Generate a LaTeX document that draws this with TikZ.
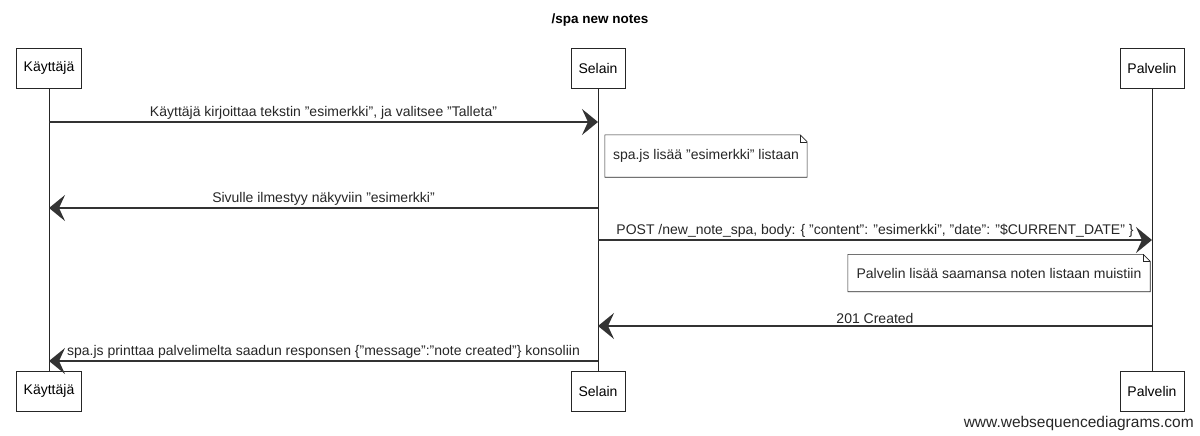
\documentclass[tikz,border=0pt]{standalone}
\usepackage{fontspec}
\setmainfont{Liberation Sans}[Ligatures=ResetAll]
\usetikzlibrary{arrows.meta}

\begin{document}
\begin{tikzpicture}[
  x=1pt, y=-1pt,
  font=\fontsize{14}{16}\selectfont,
  actor/.style={draw=black!85, semithick, minimum height=40pt, inner xsep=7.5pt},
  lifeline/.style={draw=black!85, thin},
  msg/.style={-{Stealth[length=16pt, width=26pt, inset=6pt]}, line width=1.4pt, draw=black!80},
  label/.style={above, inner sep=1.5pt, text=black!85},
  notebox/.style={inner xsep=8pt, inner ysep=0pt, minimum height=38pt, text=black!85},
  fold/.style={draw=black!85, semithick},
]
  \useasboundingbox (0,0) rectangle (1200,436);

  \node[font=\fontsize{13.5}{16}\selectfont\bfseries] (title) at (600,20) {/spa new notes};

  % participants
  \node[actor] (kayttajaTop) at (49,68) {Käyttäjä};
  \node[actor] (selainTop) at (598,68) {Selain};
  \node[actor] (palvelinTop) at (1152,68) {Palvelin};
  \node[actor] (kayttajaBot) at (49,391) {Käyttäjä};
  \node[actor] (selainBot) at (598,391) {Selain};
  \node[actor] (palvelinBot) at (1152,391) {Palvelin};

  \draw[lifeline] (kayttajaTop) -- (kayttajaBot);
  \draw[lifeline] (selainTop) -- (selainBot);
  \draw[lifeline] (palvelinTop) -- (palvelinBot);

  % message ends on the lifelines
  \coordinate (k1) at (kayttajaTop |- 0,122);
  \coordinate (s1) at (selainTop |- 0,122);
  \coordinate (s2) at (selainTop |- 0,208);
  \coordinate (k2) at (kayttajaTop |- 0,208);
  \coordinate (s3) at (selainTop |- 0,240);
  \coordinate (p3) at (palvelinTop |- 0,240);
  \coordinate (p4) at (palvelinTop |- 0,326);
  \coordinate (s4) at (selainTop |- 0,326);
  \coordinate (s5) at (selainTop |- 0,361);
  \coordinate (k5) at (kayttajaTop |- 0,361);

  \draw[msg] (k1) -- node[label] {Käyttäjä kirjoittaa tekstin "esimerkki", ja valitsee "Talleta"} (s1);

  \node[notebox, minimum width=200pt, minimum height=42pt] (note1) at (706,156) {spa.js lisää "esimerkki" listaan};
  \draw[fold] (note1.north west) -- ([xshift=-7pt]note1.north east) -- ([yshift=-7pt]note1.north east)
    -- (note1.south east) -- (note1.south west) -- cycle;
  \draw[fold] ([xshift=-7pt]note1.north east) -- ([xshift=-7pt, yshift=-7pt]note1.north east) -- ([yshift=-7pt]note1.north east);

  \draw[msg] (s2) -- node[label] {Sivulle ilmestyy näkyviin "esimerkki"} (k2);
  \draw[msg] (s3) -- node[label] {POST /new\_note\_spa, body: \{ "content": "esimerkki", "date": "\$CURRENT\_DATE" \}} (p3);

  \node[notebox, minimum width=302pt, minimum height=37pt] (note2) at (999,273) {Palvelin lisää saamansa noten listaan muistiin};
  \draw[fold] (note2.north west) -- ([xshift=-7pt]note2.north east) -- ([yshift=-7pt]note2.north east)
    -- (note2.south east) -- (note2.south west) -- cycle;
  \draw[fold] ([xshift=-7pt]note2.north east) -- ([xshift=-7pt, yshift=-7pt]note2.north east) -- ([yshift=-7pt]note2.north east);

  \draw[msg] (p4) -- node[label] {201 Created} (s4);
  \draw[msg] (s5) -- node[label] {spa.js printtaa palvelimelta saadun responsen \{"message":"note created"\} konsoliin} (k5);

  \node[anchor=east, inner sep=0pt, text=black!85, font=\fontsize{15.5}{17}\selectfont] (footer) at (1194,423) {www.websequencediagrams.com};
\end{tikzpicture}
\end{document}
